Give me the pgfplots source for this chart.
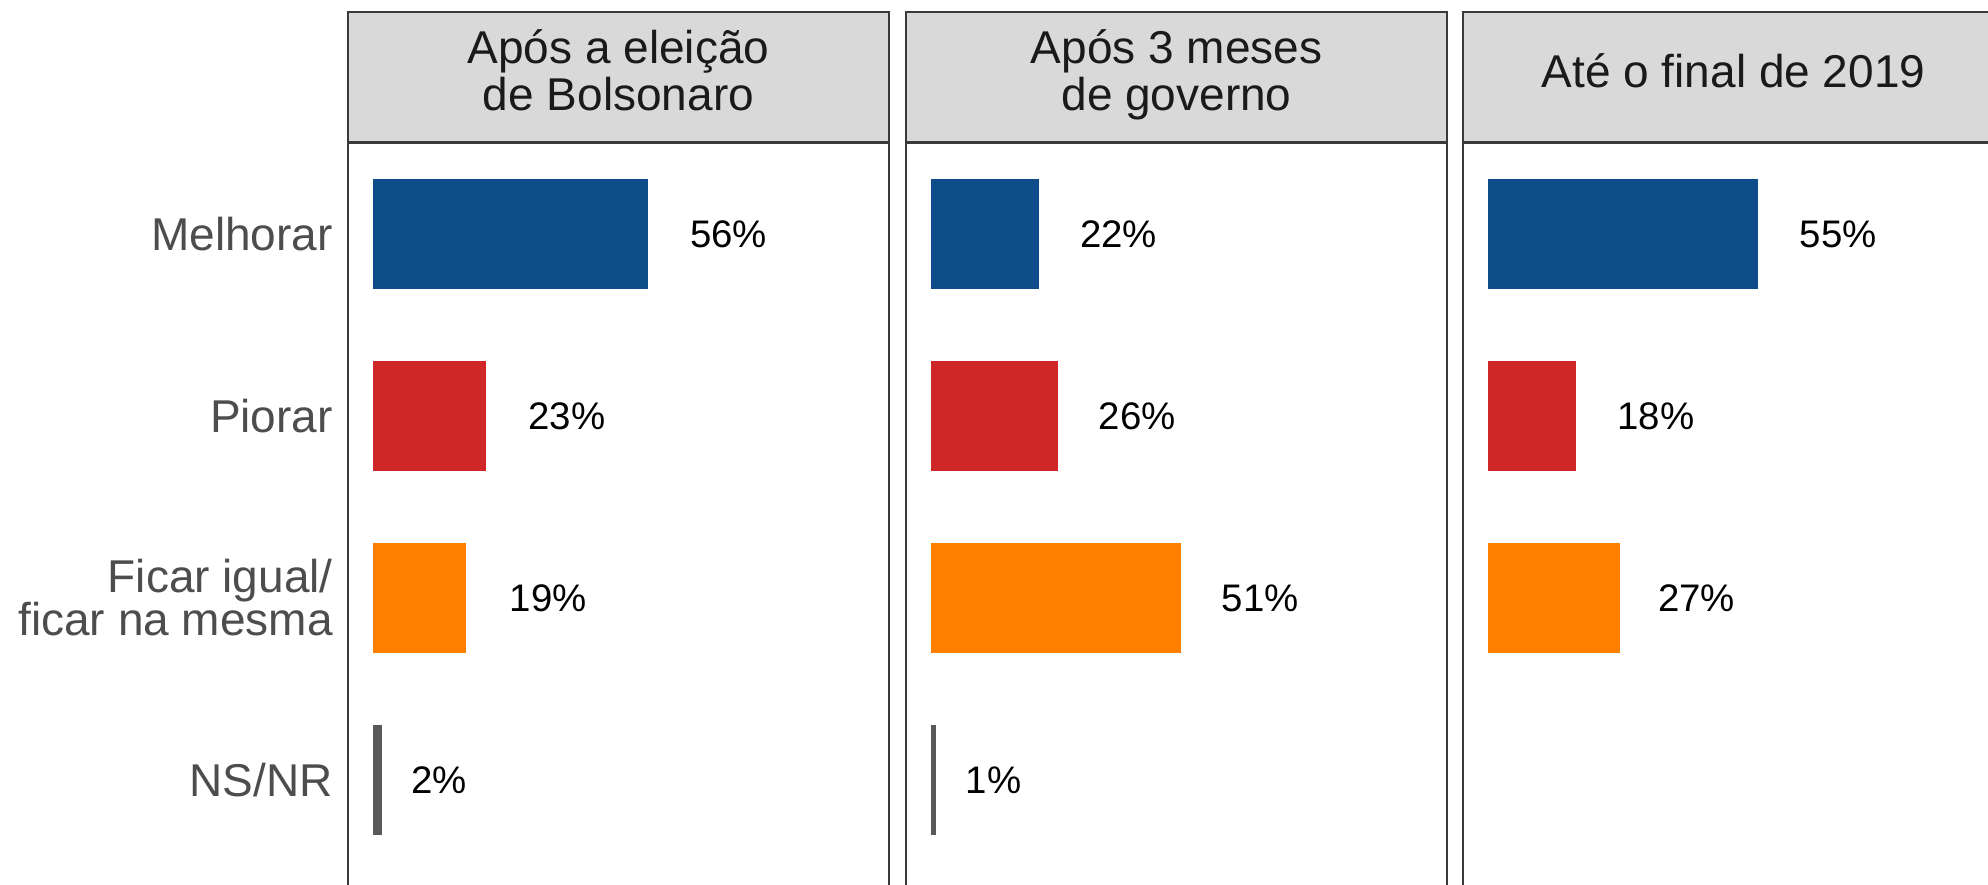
\documentclass[border=0pt]{standalone}
\usepackage{pgfplots}
\pgfplotsset{compat=1.18}
\usepackage{fontspec}
\setmainfont{Liberation Sans}
\definecolor{cblue}{HTML}{0E4C8A}
\definecolor{cred}{HTML}{CF2727}
\definecolor{corange}{HTML}{FF7F00}
\definecolor{cgrey}{HTML}{595959}
\definecolor{framec}{HTML}{3A3A3A}
\definecolor{hdrfill}{HTML}{D9D9D9}
\definecolor{hdrtext}{HTML}{1A1A1A}
\definecolor{labc}{HTML}{4D4D4D}
\newcommand{\hdr}[1]{\raisebox{1.5pt}{\begin{tabular}{@{}c@{}}#1\end{tabular}}}
\begin{document}
\begin{tikzpicture}
\pgfplotsset{
  panel/.style={
    scale only axis, width=135.25pt, height=189.25pt,
    anchor=north west,
    xmin=-5, xmax=105, ymin=0.5, ymax=4.659, y dir=reverse,
    xtick=\empty, ytick={1,2,3,4}, major tick length=0pt,
    tick style={draw=none},
    axis line style={color=framec, line width=0.55pt},
    every axis title/.style={at={(0.5,1)}, anchor=south, fill=hdrfill, draw=framec,
      line width=0.55pt, minimum width=135.25pt, minimum height=32.5pt, inner sep=0pt,
      font=\fontsize{11.5}{11.2}\selectfont, text=hdrtext},
    yticklabel style={align=right, font=\fontsize{11.5}{10.75}\selectfont, text=labc,
      inner sep=0pt, xshift=-3.6pt},
  },
  bx/.style={xbar, bar width=0.6, bar shift=0pt, draw=none},
  lbl/.style={draw=none, mark=none, point meta=explicit symbolic, nodes near coords,
    every node near coord/.style={anchor=center, font=\fontsize{9.6}{10}\selectfont,
      text=black, inner sep=0pt}},
}
% Panel 1
\begin{axis}[panel, at={(87pt,-35.75pt)},
  title={\hdr{Após a eleição\\de Bolsonaro}},
  yticklabels={Melhorar, Piorar, {Ficar igual/\\ficar na mesma}, NS/NR}]
\addplot[bx, fill=cblue] coordinates {(56,1)};
\addplot[bx, fill=cred] coordinates {(23,2)};
\addplot[bx, fill=corange] coordinates {(19,3)};
\addplot[bx, fill=cgrey] coordinates {(2,4)};
\addplot[lbl] coordinates {(72.4,1) [56\%] (39.5,2) [23\%] (35.7,3) [19\%] (13.5,4) [2\%]};
\end{axis}
% Panel 2
\begin{axis}[panel, at={(226.5pt,-35.75pt)},
  title={\hdr{Após 3 meses\\de governo}}, yticklabels={}]
\addplot[bx, fill=cblue] coordinates {(22,1)};
\addplot[bx, fill=cred] coordinates {(26,2)};
\addplot[bx, fill=corange] coordinates {(51,3)};
\addplot[bx, fill=cgrey] coordinates {(1,4)};
\addplot[lbl] coordinates {(38.2,1) [22\%] (42.0,2) [26\%] (67.0,3) [51\%] (12.8,4) [1\%]};
\end{axis}
% Panel 3
\begin{axis}[panel, at={(365.75pt,-35.75pt)},
  title={\hdr{Até o final de 2019}}, yticklabels={}]
\addplot[bx, fill=cblue] coordinates {(55,1)};
\addplot[bx, fill=cred] coordinates {(18,2)};
\addplot[bx, fill=corange] coordinates {(27,3)};
\addplot[lbl] coordinates {(71.3,1) [55\%] (34.2,2) [18\%] (42.5,3) [27\%]};
\end{axis}
\pgfresetboundingbox
\path[use as bounding box] (0,0) rectangle (497pt,-221.25pt);
\end{tikzpicture}
\end{document}
